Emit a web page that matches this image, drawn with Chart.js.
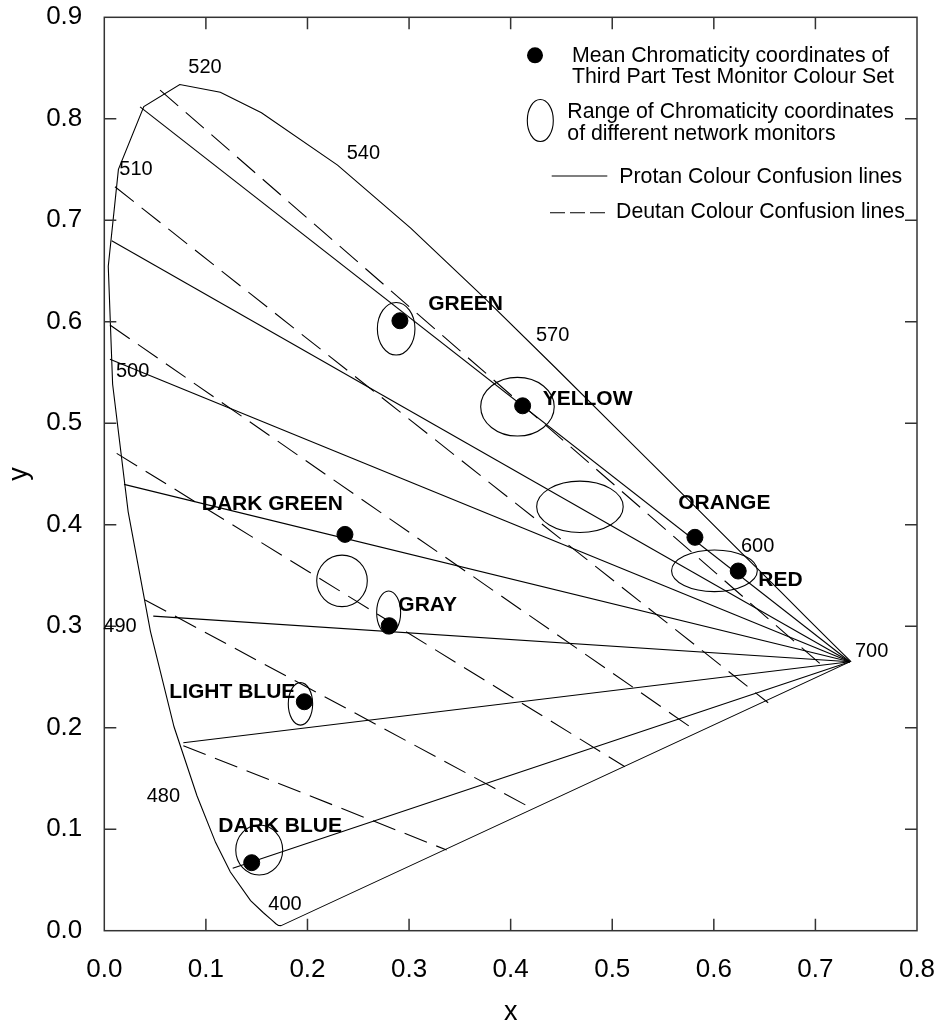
<!DOCTYPE html>
<html>
<head>
<meta charset="utf-8">
<script src="https://cdn.jsdelivr.net/npm/chart.js@4.4.1/dist/chart.umd.min.js"></script>
<style>
  html, body { margin: 0; padding: 0; background: #fff; }
  canvas { display: block; }
</style>
</head>
<body>
<canvas id="cie" width="940" height="1025"></canvas>
<script>
// spectrum locus (CIE 1931), wavelengths in nm
const locusNm = [380, 420, 430, 440, 450, 460, 470, 475, 480, 485, 490, 495, 500, 505, 510, 515, 520, 525, 530, 540, 550, 560, 570, 580, 590, 600, 610, 620, 640, 700];
const locusX = [0.1741, 0.1714, 0.1689, 0.1644, 0.1566, 0.1440, 0.1241, 0.1096, 0.0913, 0.0687, 0.0454, 0.0235, 0.0082, 0.0039, 0.0139, 0.0389, 0.0743, 0.1142, 0.1547, 0.2296, 0.3016, 0.3731, 0.4441, 0.5125, 0.5752, 0.6270, 0.6658, 0.6915, 0.7190, 0.7347];
const locusY = [0.0050, 0.0051, 0.0069, 0.0109, 0.0177, 0.0297, 0.0578, 0.0868, 0.1327, 0.2007, 0.2950, 0.4127, 0.5384, 0.6548, 0.7502, 0.8120, 0.8338, 0.8262, 0.8059, 0.7543, 0.6923, 0.6245, 0.5547, 0.4866, 0.4242, 0.3725, 0.3340, 0.3083, 0.2809, 0.2653];

// wavelength labels (left / baseline in chart units)
const nmText = ['520', '510', '540', '570', '500', '490', '480', '400', '600', '700'];
const nmX = [0.0827, 0.0148, 0.2386, 0.4249, 0.0115, -0.001, 0.0417, 0.1614, 0.6267, 0.7389];
const nmY = [0.8453, 0.7445, 0.760, 0.5813, 0.5458, 0.2946, 0.1271, 0.0204, 0.3734, 0.2694];

// protan confusion lines: start on the locus, all end at the 700 nm corner
const protanX = [0.0352, 0.0073, 0.0056, 0.0194, 0.0482, 0.0778, 0.1264];
const protanY = [0.8118, 0.6798, 0.5630, 0.4398, 0.3100, 0.1852, 0.0615];
const protanEnd = [0.734, 0.265];

// deutan confusion lines: locus -> purple line
const deutanX1 = [0.0549, 0.0105, 0.0056, 0.0122, 0.0401, 0.0778];
const deutanY1 = [0.8283, 0.7330, 0.5968, 0.4703, 0.3259, 0.1823];
const deutanX2 = [0.7110, 0.6535, 0.5813, 0.5125, 0.4207, 0.3370];
const deutanY2 = [0.2575, 0.2246, 0.1977, 0.1616, 0.1206, 0.0795];

// mean chromaticity of the test colours
const colourNames = ['GREEN', 'YELLOW', 'ORANGE', 'RED', 'DARK GREEN', 'GRAY', 'LIGHT BLUE', 'DARK BLUE'];
const meanX = [0.291, 0.4118, 0.5814, 0.624, 0.2369, 0.2805, 0.1969, 0.1451];
const meanY = [0.601, 0.5172, 0.3876, 0.3544, 0.3905, 0.3005, 0.2256, 0.067];
const nameX = [0.3189, 0.4315, 0.565, 0.6437, 0.0959, 0.2894, 0.064, 0.1122];
const nameY = [0.6115, 0.5179, 0.4152, 0.3396, 0.4145, 0.315, 0.229, 0.0975];

// ranges over the network monitors (ellipses: centre and half axes)
const rangeX = [0.2873, 0.4067, 0.4682, 0.6006, 0.234, 0.2799, 0.1931, 0.1525];
const rangeY = [0.5931, 0.5163, 0.4177, 0.3546, 0.3447, 0.3135, 0.2235, 0.0795];
const rangeRx = [0.0185, 0.0362, 0.0426, 0.0422, 0.0249, 0.0118, 0.012, 0.0231];
const rangeRy = [0.0259, 0.0289, 0.0253, 0.0205, 0.0254, 0.0212, 0.0209, 0.0246];

const xTickVals = [0.1, 0.2, 0.3, 0.4, 0.5, 0.6, 0.7];
const yTickVals = [0.1, 0.2, 0.3, 0.4, 0.5, 0.6, 0.7, 0.8];

const FONT = '"Liberation Sans", Arial, sans-serif';
const DASH = [24, 10];

const datasets = [];

// locus closed by the purple line back to 380 nm
const locusPts = locusX.map((x, i) => ({ x, y: locusY[i] }));
locusPts.push({ x: locusX[0], y: locusY[0] });
datasets.push({ type: 'line', data: locusPts, borderColor: '#000', borderWidth: 1.1, pointRadius: 0, tension: 0, fill: false });

protanX.forEach((x, i) => {
    datasets.push({
        type: 'line',
        data: [{ x, y: protanY[i] }, { x: protanEnd[0], y: protanEnd[1] }],
        borderColor: '#000', borderWidth: 1.1, pointRadius: 0, fill: false
    });
});

deutanX1.forEach((x, i) => {
    datasets.push({
        type: 'line',
        data: [{ x, y: deutanY1[i] }, { x: deutanX2[i], y: deutanY2[i] }],
        borderColor: '#000', borderWidth: 1.1, borderDash: DASH, pointRadius: 0, fill: false
    });
});

datasets.push({
    type: 'scatter',
    data: meanX.map((x, i) => ({ x, y: meanY[i] })),
    backgroundColor: '#000', borderColor: '#000', pointRadius: 8, pointHoverRadius: 8
});

// ellipses drawn through the scales
const rangePlugin = {
    id: 'ranges',
    beforeDatasetsDraw(chart) {
        const { ctx, scales: { x, y } } = chart;
        ctx.save();
        ctx.strokeStyle = '#000';
        ctx.lineWidth = 1.1;
        rangeX.forEach((cx, i) => {
            const px = x.getPixelForValue(cx);
            const py = y.getPixelForValue(rangeY[i]);
            const rx = Math.abs(x.getPixelForValue(cx + rangeRx[i]) - px);
            const ry = Math.abs(y.getPixelForValue(rangeY[i] + rangeRy[i]) - py);
            ctx.beginPath();
            ctx.ellipse(px, py, rx, ry, 0, 0, Math.PI * 2);
            ctx.stroke();
        });
        ctx.restore();
    }
};

// frame, inner ticks, axis titles, text labels and legend
const decorPlugin = {
    id: 'decor',
    afterDraw(chart) {
        const { ctx, chartArea: a, scales: { x, y } } = chart;
        ctx.save();

        ctx.strokeStyle = '#333';
        ctx.lineWidth = 1.5;
        ctx.strokeRect(a.left, a.top, a.right - a.left, a.bottom - a.top);
        ctx.beginPath();
        xTickVals.forEach(v => {
            const px = x.getPixelForValue(v);
            ctx.moveTo(px, a.bottom); ctx.lineTo(px, a.bottom - 12);
            ctx.moveTo(px, a.top); ctx.lineTo(px, a.top + 12);
        });
        yTickVals.forEach(v => {
            const py = y.getPixelForValue(v);
            ctx.moveTo(a.left, py); ctx.lineTo(a.left + 12, py);
            ctx.moveTo(a.right, py); ctx.lineTo(a.right - 12, py);
        });
        ctx.stroke();

        ctx.fillStyle = '#000';
        ctx.textAlign = 'left';
        ctx.textBaseline = 'alphabetic';

        // wavelengths
        ctx.font = '20px ' + FONT;
        nmText.forEach((t, i) => ctx.fillText(t, x.getPixelForValue(nmX[i]), y.getPixelForValue(nmY[i])));

        // colour names
        ctx.font = 'bold 21px ' + FONT;
        colourNames.forEach((t, i) => ctx.fillText(t, x.getPixelForValue(nameX[i]), y.getPixelForValue(nameY[i])));

        // axis titles
        ctx.font = '27px ' + FONT;
        ctx.textAlign = 'center';
        ctx.fillText('x', (a.left + a.right) / 2, a.bottom + 89);
        ctx.save();
        ctx.translate(a.left - 77, (a.top + a.bottom) / 2);
        ctx.rotate(-Math.PI / 2);
        ctx.fillText('y', 0, 0);
        ctx.restore();

        // legend
        const lx = a.right, ly = a.top;
        ctx.textAlign = 'left';
        ctx.font = '21.3px ' + FONT;
        ctx.beginPath();
        ctx.arc(lx - 382, ly + 38, 8, 0, Math.PI * 2);
        ctx.fill();
        ctx.fillText('Mean Chromaticity coordinates of', lx - 345, ly + 44.5);
        ctx.fillText('Third Part Test Monitor Colour Set', lx - 345, ly + 66);

        ctx.strokeStyle = '#000';
        ctx.lineWidth = 1.1;
        ctx.beginPath();
        ctx.ellipse(lx - 376.7, ly + 103.2, 13, 21, 0, 0, Math.PI * 2);
        ctx.stroke();
        ctx.fillText('Range of Chromaticity coordinates', lx - 349.7, ly + 101);
        ctx.fillText('of different network monitors', lx - 349.7, ly + 122.7);

        ctx.beginPath();
        ctx.moveTo(lx - 365.3, ly + 158.7);
        ctx.lineTo(lx - 309.7, ly + 158.7);
        ctx.stroke();
        ctx.fillText('Protan Colour Confusion lines', lx - 297.7, ly + 166);

        ctx.setLineDash([15, 5]);
        ctx.beginPath();
        ctx.moveTo(lx - 367, ly + 195.4);
        ctx.lineTo(lx - 312, ly + 195.4);
        ctx.stroke();
        ctx.setLineDash([]);
        ctx.fillText('Deutan Colour Confusion lines', lx - 301, ly + 201);

        ctx.restore();
    }
};

new Chart(document.getElementById('cie').getContext('2d'), {
    type: 'scatter',
    data: { datasets },
    options: {
        responsive: false,
        animation: false,
        events: [],
        layout: { padding: { left: 0, right: 23, top: 17.3, bottom: 0 } },
        plugins: { legend: { display: false }, tooltip: { enabled: false } },
        scales: {
            x: {
                type: 'linear', min: 0, max: 0.8,
                grid: { display: false },
                border: { display: false },
                ticks: {
                    stepSize: 0.1, autoSkip: false, maxRotation: 0, padding: 16,
                    color: '#000', font: { family: FONT, size: 26 },
                    callback: v => Number(v).toFixed(1)
                },
                afterFit: s => { s.height = 94.3; s.paddingLeft = 0; s.paddingRight = 0; }
            },
            y: {
                type: 'linear', min: 0, max: 0.9,
                grid: { display: false },
                border: { display: false },
                ticks: {
                    stepSize: 0.1, autoSkip: false, padding: 14,
                    color: '#000', font: { family: FONT, size: 26 },
                    callback: v => Number(v).toFixed(1)
                },
                afterFit: s => { s.width = 104.3; s.paddingTop = 0; s.paddingBottom = 0; }
            }
        }
    },
    plugins: [rangePlugin, decorPlugin]
});
</script>
</body>
</html>
